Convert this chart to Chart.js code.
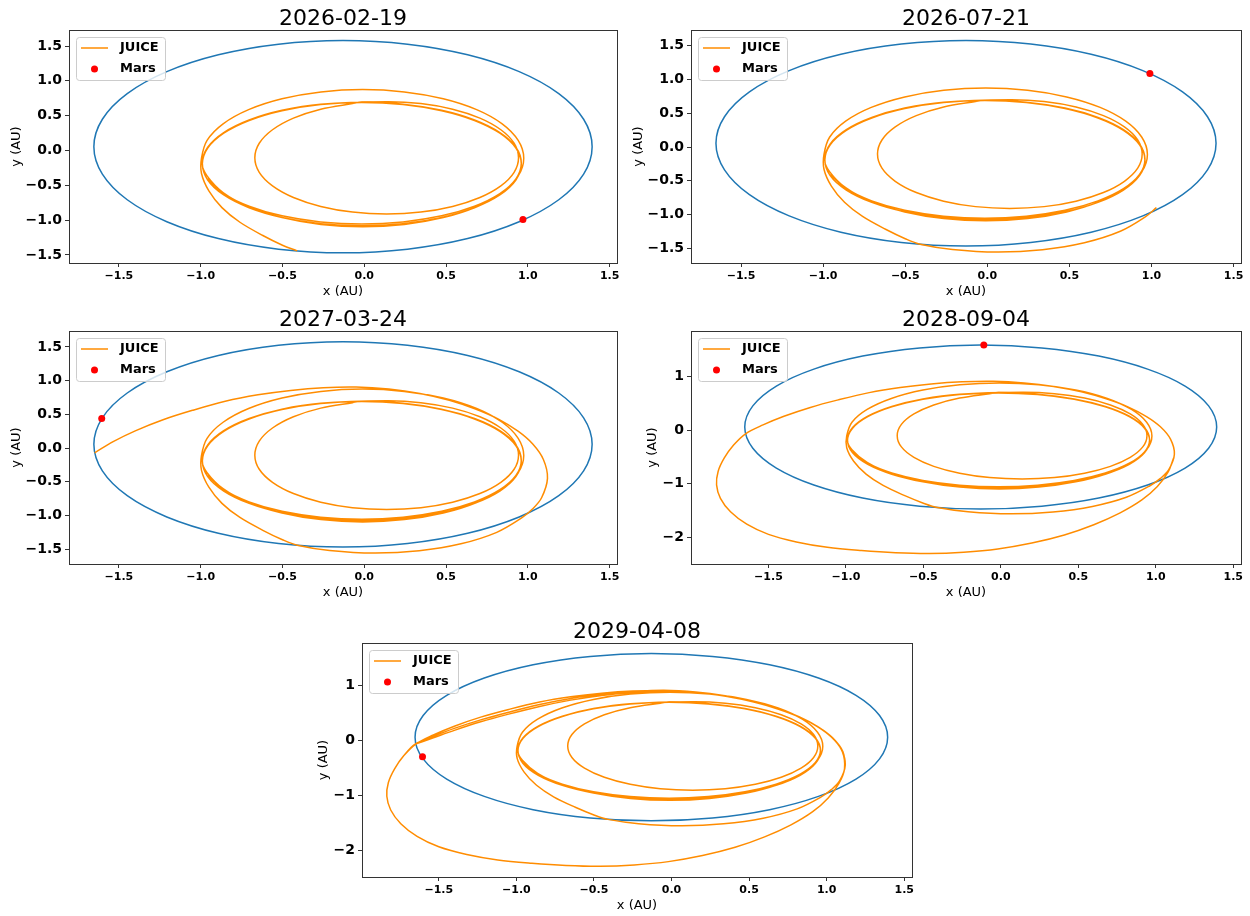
<!DOCTYPE html>
<html lang="en">
<head>
<meta charset="UTF-8">
<title>JUICE trajectory and Mars</title>
<script src="https://cdn.jsdelivr.net/npm/chart.js"></script>
<style>
  body { margin: 0; background: #fff; width: 1250px; height: 916px; position: relative; overflow: hidden; }
  canvas { position: absolute; }
</style>
</head>
<body>
<canvas id="c0"></canvas>
<canvas id="c1"></canvas>
<canvas id="c2"></canvas>
<canvas id="c3"></canvas>
<canvas id="c4"></canvas>
<script>
// snapshot dates and Mars position at each date (AU)
const dates = ['2026-02-19', '2026-07-21', '2027-03-24', '2028-09-04', '2029-04-08'];
const marsX = [0.97, 0.99, -1.605, -0.11, -1.605];
const marsY = [-0.99, 1.09, 0.44, 1.578, -0.30];

// Mars orbit (x, y in AU); one extra point at each end, hidden, so it closes cleanly
const marsOrbit = [
  [1.341, -0.339], [1.393, 0.055], [1.341, 0.449], [1.189, 0.817], [0.947, 1.132],
  [0.632, 1.374], [0.264, 1.526], [-0.13, 1.578], [-0.524, 1.526], [-0.892, 1.374],
  [-1.207, 1.132], [-1.449, 0.817], [-1.601, 0.449], [-1.653, 0.055], [-1.601, -0.339],
  [-1.449, -0.707], [-1.207, -1.022], [-0.892, -1.264], [-0.524, -1.416], [-0.13, -1.468],
  [0.264, -1.416], [0.632, -1.264], [0.947, -1.022], [1.189, -0.707], [1.341, -0.339],
  [1.393, 0.055], [1.341, 0.449]
];

// JUICE trajectory pieces, in flight order (x, y in AU)
const juiceLoop1 = [
  [-0.957, -0.407], [-0.859, -0.618], [-0.704, -0.799], [-0.503, -0.938], [-0.267, -1.025],
  [-0.015, -1.055], [0.237, -1.025], [0.473, -0.938], [0.674, -0.799], [0.829, -0.618],
  [0.927, -0.407], [0.96, -0.18], [0.927, 0.047], [0.829, 0.258], [0.674, 0.439],
  [0.473, 0.578], [0.237, 0.665], [-0.015, 0.695]
];
const juiceInner = [
  [-0.072, 0.674], [-0.266, 0.593], [-0.433, 0.465], [-0.561, 0.298], [-0.642, 0.104],
  [-0.669, -0.105], [-0.642, -0.314], [-0.561, -0.508], [-0.433, -0.675], [-0.266, -0.803],
  [-0.072, -0.884], [0.137, -0.911], [0.346, -0.884], [0.54, -0.803], [0.707, -0.675],
  [0.835, -0.508], [0.916, -0.314], [0.943, -0.105], [0.916, 0.104], [0.835, 0.298],
  [0.707, 0.465], [0.54, 0.593], [0.346, 0.674], [0.137, 0.701]
];
const juiceLoop1Tail = [
  [-0.267, 0.665], [-0.503, 0.578], [-0.704, 0.439], [-0.859, 0.258], [-0.957, 0.047], [-0.99, -0.18]
];
const juiceLoop2 = [
  [-0.957, -0.424], [-0.859, -0.638], [-0.704, -0.821], [-0.503, -0.961], [-0.267, -1.05],
  [-0.015, -1.08], [0.237, -1.05], [0.473, -0.961], [0.674, -0.821], [0.829, -0.638],
  [0.927, -0.424], [0.96, -0.195], [0.927, 0.034], [0.829, 0.248], [0.674, 0.431],
  [0.473, 0.571], [0.237, 0.66], [-0.015, 0.69], [-0.267, 0.66], [-0.503, 0.571],
  [-0.704, 0.431], [-0.859, 0.248], [-0.957, 0.034], [-0.99, -0.195]
];
const juiceLoop3 = [
  [-0.961, -0.365], [-0.863, -0.603], [-0.707, -0.807], [-0.503, -0.963], [-0.265, -1.061],
  [-0.01, -1.095], [0.245, -1.061], [0.483, -0.963], [0.687, -0.807], [0.843, -0.603],
  [0.941, -0.365], [0.975, -0.11], [0.941, 0.145], [0.843, 0.383], [0.687, 0.587],
  [0.483, 0.743], [0.245, 0.841], [-0.01, 0.875], [-0.265, 0.841], [-0.503, 0.743],
  [-0.707, 0.587], [-0.863, 0.383], [-0.961, 0.145], [-0.995, -0.11]
];
const juiceArc1 = [
  [-0.995, -0.33], [-0.95, -0.58], [-0.87, -0.82], [-0.76, -1.03], [-0.62, -1.22],
  [-0.50, -1.36], [-0.41, -1.441]
];
const juiceArc2 = [
  [-0.212, -1.519], [0.062, -1.557], [0.336, -1.522], [0.591, -1.42], [0.81, -1.25],
  [0.96, -1.04], [1.03, -0.90]
];
const juiceArc3 = [
  [1.084, -0.737], [1.12, -0.45], [1.095, -0.17], [1.03, 0.06], [0.94, 0.25], [0.82, 0.43],
  [0.68, 0.58], [0.52, 0.71], [0.34, 0.81], [0.15, 0.875], [-0.05, 0.905], [-0.25, 0.895],
  [-0.45, 0.855], [-0.65, 0.79], [-0.85, 0.695], [-1.05, 0.56], [-1.23, 0.42], [-1.40, 0.255],
  [-1.535, 0.095], [-1.648, -0.07]
];
const juiceWide = [
  [-1.725, -0.28], [-1.785, -0.52], [-1.825, -0.77], [-1.835, -1.02], [-1.81, -1.27],
  [-1.745, -1.52], [-1.64, -1.75], [-1.50, -1.94], [-1.32, -2.08], [-1.12, -2.18],
  [-0.90, -2.24], [-0.68, -2.28], [-0.46, -2.295], [-0.24, -2.27], [-0.02, -2.21],
  [0.20, -2.10], [0.41, -1.95], [0.60, -1.76], [0.77, -1.54], [0.91, -1.30],
  [1.01, -1.05], [1.08, -0.78], [1.115, -0.52]
];
const juiceReturn1 = [
  [1.10, -0.20], [1.035, 0.05], [0.945, 0.245], [0.825, 0.425], [0.685, 0.575], [0.525, 0.705],
  [0.345, 0.81], [0.155, 0.88], [-0.05, 0.91], [-0.25, 0.885], [-0.45, 0.835], [-0.65, 0.76],
  [-0.85, 0.65], [-1.05, 0.51], [-1.23, 0.37], [-1.40, 0.215], [-1.535, 0.07], [-1.655, -0.075]
];
const juiceReturn2 = [
  [1.105, -0.21], [1.04, 0.04], [0.95, 0.235], [0.83, 0.415], [0.69, 0.565], [0.53, 0.695],
  [0.35, 0.80], [0.16, 0.87], [-0.05, 0.895], [-0.25, 0.87], [-0.45, 0.815], [-0.65, 0.73],
  [-0.85, 0.615], [-1.05, 0.475], [-1.23, 0.335], [-1.40, 0.18], [-1.535, 0.045], [-1.66, -0.08]
];
const juiceSegments = [juiceLoop1, juiceInner, juiceLoop1Tail, juiceLoop2, juiceLoop3,
  juiceArc1, juiceArc2, juiceArc3, juiceWide, juiceReturn1, juiceWide, juiceReturn2];
// how many pieces have been flown at each date
const juiceShown = [6, 7, 8, 9, 12];

const ticksHalf = [-1.5, -1.0, -0.5, 0.0, 0.5, 1.0, 1.5];
const ticksWhole = [-2, -1, 0, 1];

const panels = [
  { left: 69, top: 30, w: 548, h: 233, yw: 64, x: [-1.805, 1.545], y: [-1.615, 1.73], yt: ticksHalf, yd: 1 },
  { left: 691, top: 30, w: 550, h: 233, yw: 64, x: [-1.805, 1.545], y: [-1.72, 1.735], yt: ticksHalf, yd: 1 },
  { left: 69, top: 331, w: 548, h: 233, yw: 64, x: [-1.805, 1.545], y: [-1.72, 1.737], yt: ticksHalf, yd: 1 },
  { left: 691, top: 331, w: 550, h: 233, yw: 50, x: [-2.0, 1.55], y: [-2.49, 1.84], yt: ticksWhole, yd: 0 },
  { left: 362, top: 643, w: 550, h: 234, yw: 50, x: [-1.995, 1.55], y: [-2.49, 1.77], yt: ticksWhole, yd: 0 }
];

const ORANGE = '#ff8c00', BLUE = '#1f77b4';
const FONT = 'DejaVu Sans';
const toXY = pts => pts.map(p => ({ x: p[0], y: p[1] }));
const fmt = (v, d) => (v < 0 ? '\u2212' : '') + Math.abs(v).toFixed(d);
const lastOrbitSeg = marsOrbit.length - 1;

const decor = {
  id: 'decor',
  afterDraw(chart, args, opts) {
    const ctx = chart.ctx, a = chart.chartArea;
    ctx.save();
    // frame
    ctx.strokeStyle = '#333';
    ctx.lineWidth = 1;
    ctx.strokeRect(a.left + 0.5, a.top + 0.5, a.right - a.left, a.bottom - a.top);
    // title
    ctx.fillStyle = '#000';
    ctx.font = '22px "' + FONT + '"';
    ctx.textAlign = 'center';
    ctx.textBaseline = 'alphabetic';
    ctx.fillText(opts.title, (a.left + a.right) / 2, a.top - 5);
    // legend
    const bx = a.left + 7, by = a.top + 7, bw = 89, bh = 43;
    ctx.beginPath();
    ctx.roundRect(bx + 0.5, by + 0.5, bw, bh, 3);
    ctx.fillStyle = 'rgba(255,255,255,0.8)';
    ctx.fill();
    ctx.strokeStyle = '#cccccc';
    ctx.stroke();
    ctx.beginPath();
    ctx.moveTo(bx + 5, by + 11);
    ctx.lineTo(bx + 32, by + 11);
    ctx.strokeStyle = ORANGE;
    ctx.lineWidth = 1.5;
    ctx.stroke();
    ctx.beginPath();
    ctx.arc(bx + 18.5, by + 32, 3.5, 0, Math.PI * 2);
    ctx.fillStyle = 'red';
    ctx.fill();
    ctx.fillStyle = '#000';
    ctx.font = 'bold 13px "' + FONT + '"';
    ctx.textAlign = 'left';
    ctx.textBaseline = 'middle';
    ctx.fillText('JUICE', bx + 44, by + 11);
    ctx.fillText('Mars', bx + 44, by + 31.5);
    ctx.restore();
  }
};

panels.forEach((p, i) => {
  const cv = document.getElementById('c' + i);
  cv.width = p.yw + p.w + 8;
  cv.height = 30 + p.h + 47;
  cv.style.left = (p.left - p.yw) + 'px';
  cv.style.top = (p.top - 30) + 'px';

  const path = [].concat(...juiceSegments.slice(0, juiceShown[i]));

  new Chart(cv, {
    type: 'scatter',
    data: {
      datasets: [
        { label: 'Mars', data: [{ x: marsX[i], y: marsY[i] }], backgroundColor: 'red', borderColor: 'red',
          pointRadius: 3.5, pointBorderWidth: 0, showLine: false },
        { label: 'JUICE', data: toXY(path), showLine: true, borderColor: ORANGE, borderWidth: 1.5,
          pointRadius: 0, tension: 0.34, fill: false },
        { label: 'Mars orbit', data: toXY(marsOrbit), showLine: true, borderColor: BLUE, borderWidth: 1.5,
          pointRadius: 0, tension: 0.34, fill: false,
          segment: {
            borderColor: c => (c.p0DataIndex === 0 || c.p1DataIndex === lastOrbitSeg) ? 'rgba(0,0,0,0)' : BLUE
          } }
      ]
    },
    options: {
      responsive: false,
      animation: false,
      devicePixelRatio: 1,
      layout: { padding: { left: 0, top: 30, right: 8, bottom: 7 } },
      plugins: {
        legend: { display: false },
        tooltip: { enabled: false },
        decor: { title: dates[i] }
      },
      scales: {
        x: {
          type: 'linear', min: p.x[0], max: p.x[1],
          afterBuildTicks: s => { s.ticks = ticksHalf.map(v => ({ value: v })); },
          afterFit: s => { s.height = 40; s.paddingLeft = 0; s.paddingRight = 0; },
          ticks: { color: '#000', font: { family: FONT, size: 11, weight: 'bold' }, padding: 3,
                   maxRotation: 0, autoSkip: false, callback: v => fmt(v, 1) },
          grid: { display: true, drawOnChartArea: false, drawTicks: true, tickLength: 4, color: '#333' },
          border: { display: false },
          title: { display: true, text: 'x (AU)', color: '#000', font: { family: FONT, size: 13 },
                   padding: { top: 4, bottom: 4 } }
        },
        y: {
          type: 'linear', min: p.y[0], max: p.y[1],
          afterBuildTicks: s => { s.ticks = p.yt.map(v => ({ value: v })); },
          afterFit: s => { s.width = p.yw; s.paddingTop = 0; s.paddingBottom = 0; },
          ticks: { color: '#000', font: { family: FONT, size: 14, weight: 'bold' }, padding: 3,
                   autoSkip: false, callback: v => fmt(v, p.yd) },
          grid: { display: true, drawOnChartArea: false, drawTicks: true, tickLength: 4, color: '#333' },
          border: { display: false },
          title: { display: true, text: 'y (AU)', color: '#000', font: { family: FONT, size: 13 },
                   padding: { top: 4, bottom: 4 } }
        }
      }
    },
    plugins: [decor]
  });
});
</script>
</body>
</html>
